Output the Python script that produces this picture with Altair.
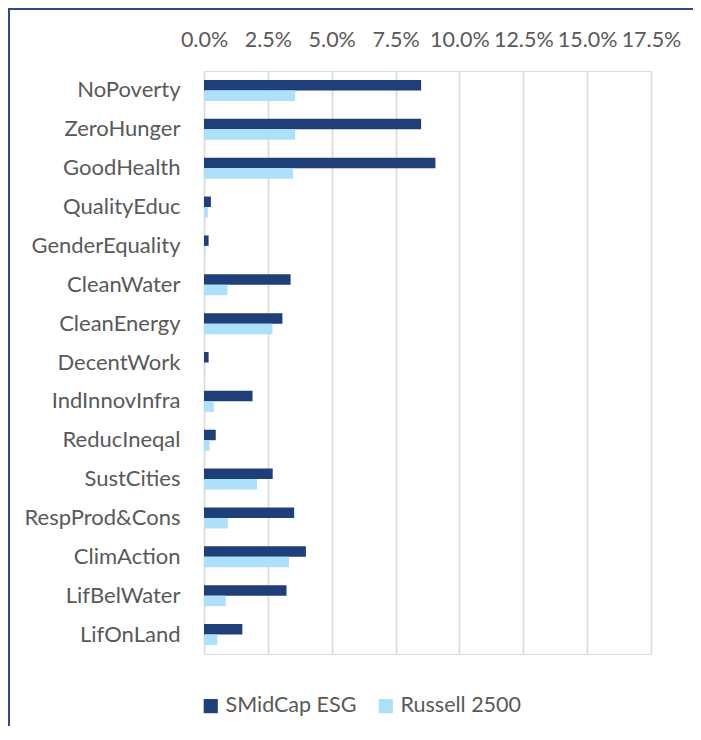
import altair as alt
import pandas as pd

categories = ["NoPoverty", "ZeroHunger", "GoodHealth", "QualityEduc", "GenderEquality",
              "CleanWater", "CleanEnergy", "DecentWork", "IndInnovInfra", "ReducIneqal",
              "SustCities", "RespProd&Cons", "ClimAction", "LifBelWater", "LifOnLand"]
smidcap_esg = [8.5, 8.5, 9.06, 0.27, 0.18, 3.39, 3.07, 0.18, 1.9, 0.46, 2.69, 3.53, 3.99, 3.23, 1.5]
russell_2500 = [3.57, 3.57, 3.49, 0.15, 0.05, 0.92, 2.68, 0.05, 0.38, 0.22, 2.08, 0.93, 3.33, 0.85, 0.52]
series_names = ["SMidCap ESG", "Russell 2500"]
tick_values = [0, 2.5, 5, 7.5, 10, 12.5, 15, 17.5]

rows = []
for c, a, b in zip(categories, smidcap_esg, russell_2500):
    rows.append({"cat": c, "series": series_names[0], "value": a})
    rows.append({"cat": c, "series": series_names[1], "value": b})
df = pd.DataFrame(rows)

FONT = "Lato"
TXT = "#595959"

bars = alt.Chart(df).mark_bar().encode(
    x=alt.X("value:Q",
            scale=alt.Scale(domain=[0, 17.5], nice=False, zero=True),
            axis=alt.Axis(orient="top", values=tick_values, title=None,
                          labelExpr="format(datum.value, '.1f') + '%'",
                          labelOverlap=False, labelFlush=False, labelBound=False,
                          ticks=False, domain=False, labelPadding=20,
                          labelFontSize=21.5, labelColor=TXT, labelFont=FONT,
                          grid=True, gridColor="#d9d9d9", gridWidth=1.6)),
    y=alt.Y("cat:N", sort=categories,
            scale=alt.Scale(paddingInner=0.46, paddingOuter=0.23),
            axis=alt.Axis(title=None, ticks=False, domain=False, labelPadding=24,
                          labelFontSize=22, labelColor=TXT, labelFont=FONT)),
    yOffset=alt.YOffset("series:N", sort=series_names, scale=alt.Scale(paddingInner=0, paddingOuter=0)),
    color=alt.Color("series:N", sort=series_names,
                    scale=alt.Scale(domain=series_names, range=["#1F3F7A", "#ADE0FA"]),
                    legend=alt.Legend(title=None, orient="none", legendX=-4, legendY=624,
                                      direction="horizontal", symbolType="square",
                                      symbolSize=200, symbolStrokeWidth=0, labelOffset=4,
                                      columnPadding=18, padding=0, labelFontSize=21.5,
                                      labelColor=TXT, labelFont=FONT)),
)

one = pd.DataFrame({"a": [0]})
top_line = alt.Chart(one).mark_rule(color="#2E4A87", strokeWidth=2).encode(
    x=alt.value(-196), x2=alt.value(600), y=alt.value(-62))
left_line = alt.Chart(one).mark_rule(color="#2E4A87", strokeWidth=2).encode(
    x=alt.value(-195), y=alt.value(-63), y2=alt.value(700))

chart = alt.layer(bars, top_line, left_line).properties(
    width=447, height=583,
    autosize=alt.AutoSizeParams(type="none"),
    padding={"left": 196, "top": 63, "right": 42, "bottom": 72},
).configure_view(stroke=None).configure(background="white")

chart.save("out.html", embed_options={"renderer": "svg", "actions": False})
